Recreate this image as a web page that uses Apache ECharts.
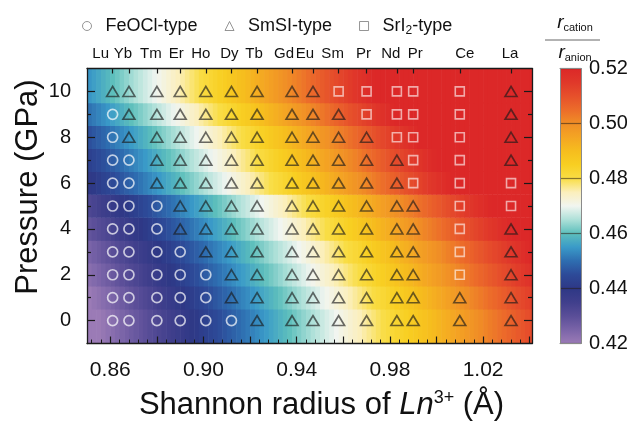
<!DOCTYPE html>
<html><head><meta charset="utf-8">
<script src="https://cdn.jsdelivr.net/npm/echarts@6/dist/echarts.min.js"></script>
<style>html,body{margin:0;padding:0;background:#fff}#c{width:627px;height:421px}</style>
</head><body><div id="c"></div>
<script>
// ---------------- data ----------------
const elements = ['Lu','Yb','Tm','Er','Ho','Dy','Tb','Gd','Eu','Sm','Pr','Nd','Pr','Ce','La'];
const radii = [0.861,0.868,0.880,0.890,0.901,0.912,0.923,0.938,0.947,0.958,0.970,0.983,0.990,1.010,1.032];
const pressures = [0,1,2,3,4,5,6,7,8,9,10];
// phase code per element for each pressure: F = FeOCl-type, S = SmSI-type, I = SrI2-type
const phaseRows = [
  'FFFFFFSSSSSSSSS', // 0 GPa
  'FFFFFSSSSSSSSSS', // 1
  'FFFFFSSSSSSSSIS', // 2
  'FFFFSSSSSSSSSIS', // 3
  'FFFSSSSSSSSSSIS', // 4
  'FFFSSSSSSSSSSII', // 5
  'FFSSSSSSSSSSIII', // 6
  'FFSSSSSSSSSSIIS', // 7
  'FSSSSSSSSSSIIIS', // 8
  'FSSSSSSSSSIIIIS', // 9
  'SSSSSSSSSIIIIIS'  // 10
];
// effective anion radius (Å) per pressure row, read from the colour field
const anionRadius = [2.036,2.026,2.013,2.002,1.985,1.968,1.936,1.923,1.909,1.889,1.872];
const phaseNames = ['FeOCl-type','SmSI-type','SrI2-type'];
const phaseCodes = ['F','S','I'];
const xTickLabels = [0.86,0.90,0.94,0.98,1.02];
const yTickLabels = [0,2,4,6,8,10];
const colorbarTicks = [0.42,0.44,0.46,0.48,0.50,0.52];

// ---------------- layout / style ----------------
const FONT = "'Liberation Sans', Arial, Helvetica, sans-serif";
const X_MIN = 0.85, X_MAX = 1.041, Y_MIN = -1, Y_MAX = 11, CELL = 0.002;
const R_MIN = 0.42, R_MAX = 0.52;
const cmap = ['#9b7bb6','#7a64a8','#5a4e98','#403f8c','#2e3886','#2d4a98','#2e6db0','#3a9ac8',
  '#5dbfbc','#ade0d8','#f1f5f0','#fbefbc','#f9dd45','#f8cf22','#f6bd1e','#f4a523','#f08e26',
  '#ec6c2a','#e6502b','#e0382a','#dc2828'];
const topShift = [12,6,6,4,5,2,3,8,8,6,3,6,-2,-5,1];

// heatmap cells
const cells = [];
pressures.forEach((p, r) => {
  const y0 = r === 0 ? Y_MIN : p - 0.5;
  const y1 = r === pressures.length - 1 ? Y_MAX : p + 0.5;
  const nCols = Math.ceil((X_MAX - X_MIN) / CELL);
  for (let k = 0; k < nCols; k++) {
    const x0 = X_MIN + k * CELL, x1 = x0 + CELL;
    const ratio = (x0 + CELL / 2) / anionRadius[r];
    cells.push([x0, x1, y0, y1, Math.min(R_MAX, Math.max(R_MIN, ratio))]);
  }
});
// phase points
const phaseData = phaseCodes.map(code => {
  const out = [];
  pressures.forEach((p, r) => {
    for (let i = 0; i < radii.length; i++) if (phaseRows[r][i] === code) out.push([radii[i], p]);
  });
  return out;
});

const majorX = [], minorX = [];
for (let n = 213; n <= 260; n++) { if (n % 5 === 0) majorX.push(+(n * 0.004).toFixed(3)); else minorX.push(+(n * 0.004).toFixed(3)); }
const evenY = [0,2,4,6,8,10], oddY = [1,3,5,7,9];

function renderCell(params, api) {
  const a = api.coord([api.value(0), api.value(3)]);
  const b = api.coord([api.value(1), api.value(2)]);
  return { type: 'rect', shape: { x: a[0], y: a[1] - 0.3, width: b[0] - a[0] + 0.6, height: b[1] - a[1] + 0.6 },
    style: { fill: api.visual('color') } };
}
function renderBar(params, api) {
  const a = api.coord([0, R_MAX]);
  const b = api.coord([1, R_MIN]);
  const stops = cmap.map((c, i) => ({ offset: 1 - i / (cmap.length - 1), color: c }));
  return { type: 'rect', shape: { x: a[0], y: a[1], width: b[0] - a[0], height: b[1] - a[1] },
    style: { fill: new echarts.graphic.LinearGradient(0, 0, 0, 1, stops.reverse()) } };
}
function nameOf(v) {
  let best = 0;
  radii.forEach((r, i) => { if (Math.abs(r - v) < Math.abs(radii[best] - v)) best = i; });
  return '{s' + best + '|' + elements[best] + '}';
}

const AX = '#1a1a1a';
const topRich = {};
topShift.forEach((s, i) => { topRich['s' + i] = { padding: s >= 0 ? [0, 2 * s, 0, 0] : [0, 0, 0, -2 * s], fontSize: 15, color: '#111', fontFamily: FONT }; });

const option = {
  backgroundColor: '#fff',
  animation: false,
  textStyle: { fontFamily: FONT },
  grid: [
    { left: 87, top: 68.5, width: 445, height: 275, outerBoundsMode: 'none', containLabel: false },
    { left: 560, top: 68.5, width: 21, height: 275, outerBoundsMode: 'none', containLabel: false }
  ],
  legend: {
    left: 77, top: 12, itemWidth: 9, itemHeight: 9, itemGap: 27,
    textStyle: { fontSize: 18, color: '#111', fontFamily: FONT, padding: [0, 0, 0, 9],
      rich: { sub: { fontSize: 12, padding: [10, 0, 0, 0], color: '#111' } } },
    formatter: n => n === 'SrI2-type' ? 'SrI{sub|2}-type' : n,
    data: [
      { name: phaseNames[0], icon: 'circle', itemStyle: { color: 'rgba(0,0,0,0)', borderColor: '#7a7a7a', borderWidth: 1 } },
      { name: phaseNames[1], icon: 'triangle', itemStyle: { color: 'rgba(0,0,0,0)', borderColor: '#7a7a7a', borderWidth: 1 } },
      { name: phaseNames[2], icon: 'rect', itemStyle: { color: 'rgba(0,0,0,0)', borderColor: '#7a7a7a', borderWidth: 1 } }
    ]
  },
  visualMap: {
    type: 'continuous', show: false, min: R_MIN, max: R_MAX, dimension: 4, seriesIndex: [0],
    inRange: { color: cmap }
  },
  xAxis: [
    { gridIndex: 0, type: 'value', position: 'bottom', min: X_MIN, max: X_MAX, z: 10,
      axisLine: { show: true, onZero: false, lineStyle: { color: AX, width: 1.3 } },
      axisTick: { show: true, inside: true, length: 7, customValues: majorX, lineStyle: { color: AX, width: 1.2 } },
      axisLabel: { customValues: xTickLabels, formatter: v => v.toFixed(2), fontSize: 21, color: '#111', margin: 16 },
      splitLine: { show: false },
      name: 'Shannon radius of {i|Ln}{sup|3+} (Å)', nameLocation: 'middle', nameGap: 46,
      nameTextStyle: { fontSize: 31, color: '#111', padding: [0, 0, 0, 24],
        rich: { i: { fontSize: 31, fontStyle: 'italic', color: '#111' }, sup: { fontSize: 18, padding: [0, 0, 13, 0], color: '#111' } } } },
    { gridIndex: 0, type: 'value', position: 'bottom', min: X_MIN, max: X_MAX, z: 10,
      axisLine: { show: false, onZero: false },
      axisTick: { show: true, inside: true, length: 4, customValues: minorX, lineStyle: { color: AX, width: 1 } },
      axisLabel: { show: false }, splitLine: { show: false } },
    { gridIndex: 0, type: 'value', position: 'top', min: X_MIN, max: X_MAX, z: 10,
      axisLine: { show: true, onZero: false, lineStyle: { color: AX, width: 1.3 } },
      axisTick: { show: true, inside: true, length: 5, customValues: radii, lineStyle: { color: AX, width: 1.2 } },
      axisLabel: { customValues: radii, margin: 7, formatter: v => nameOf(v), rich: topRich },
      splitLine: { show: false } },
    { gridIndex: 1, type: 'value', position: 'bottom', min: 0, max: 1, z: 10,
      axisLine: { show: true, onZero: false, lineStyle: { color: '#8a8a8a', width: 1 } },
      axisTick: { show: false }, axisLabel: { show: false }, splitLine: { show: false } },
    { gridIndex: 1, type: 'value', position: 'top', min: 0, max: 1, z: 10,
      axisLine: { show: true, onZero: false, lineStyle: { color: '#8a8a8a', width: 1 } },
      axisTick: { show: false }, axisLabel: { show: false }, splitLine: { show: false } }
  ],
  yAxis: [
    { gridIndex: 0, type: 'value', position: 'left', min: Y_MIN, max: Y_MAX, z: 10,
      axisLine: { show: true, onZero: false, lineStyle: { color: AX, width: 1.3 } },
      axisTick: { show: true, inside: true, length: 8, customValues: evenY, lineStyle: { color: AX, width: 1.2 } },
      axisLabel: { customValues: yTickLabels, fontSize: 20, color: '#111', margin: 16 },
      splitLine: { show: false },
      name: 'Pressure (GPa)', nameLocation: 'middle', nameGap: 43, nameMoveOverlap: false,
      nameTextStyle: { fontSize: 31, color: '#111', padding: [0, 0, 0, 38] } },
    { gridIndex: 0, type: 'value', position: 'left', min: Y_MIN, max: Y_MAX, z: 10,
      axisLine: { show: false, onZero: false },
      axisTick: { show: true, inside: true, length: 4, customValues: oddY, lineStyle: { color: AX, width: 1.2 } },
      axisLabel: { show: false }, splitLine: { show: false } },
    { gridIndex: 0, type: 'value', position: 'right', min: Y_MIN, max: Y_MAX, z: 10,
      axisLine: { show: true, onZero: false, lineStyle: { color: AX, width: 1.3 } },
      axisTick: { show: true, inside: true, length: 8, customValues: evenY, lineStyle: { color: AX, width: 1.2 } },
      axisLabel: { show: false }, splitLine: { show: false } },
    { gridIndex: 0, type: 'value', position: 'right', min: Y_MIN, max: Y_MAX, z: 10,
      axisLine: { show: false, onZero: false },
      axisTick: { show: true, inside: true, length: 4, customValues: oddY, lineStyle: { color: AX, width: 1.2 } },
      axisLabel: { show: false }, splitLine: { show: false } },
    { gridIndex: 1, type: 'value', position: 'right', min: R_MIN, max: R_MAX, interval: 0.02, z: 10,
      axisLine: { show: true, onZero: false, lineStyle: { color: '#8a8a8a', width: 1 } },
      axisTick: { show: false },
      axisLabel: { customValues: colorbarTicks, formatter: v => v.toFixed(2), fontSize: 20, color: '#111', margin: 8 },
      splitLine: { show: true, lineStyle: { color: 'rgba(40,30,20,0.55)', width: 1.2 } } },
    { gridIndex: 1, type: 'value', position: 'left', min: R_MIN, max: R_MAX, z: 10,
      axisLine: { show: true, onZero: false, lineStyle: { color: '#8a8a8a', width: 1 } },
      axisTick: { show: false }, axisLabel: { show: false }, splitLine: { show: false } }
  ],
  graphic: [
    { type: 'text', x: 575, y: 33, style: { text: '{r|r}{s|cation}', align: 'center', verticalAlign: 'bottom',
      rich: { r: { fontSize: 19, fontStyle: 'italic', fontFamily: FONT, fill: '#111' }, s: { fontSize: 11, fontFamily: FONT, fill: '#111', padding: [9, 0, 0, 0] } } } },
    { type: 'line', shape: { x1: 545, y1: 40, x2: 600, y2: 40 }, style: { stroke: '#666', lineWidth: 1 } },
    { type: 'text', x: 575, y: 63, style: { text: '{r|r}{s|anion}', align: 'center', verticalAlign: 'bottom',
      rich: { r: { fontSize: 19, fontStyle: 'italic', fontFamily: FONT, fill: '#111' }, s: { fontSize: 11, fontFamily: FONT, fill: '#111', padding: [9, 0, 0, 0] } } } }
  ],
  series: [
    { type: 'custom', name: 'ratio', xAxisIndex: 0, yAxisIndex: 0, data: cells, renderItem: renderCell, clip: true,
      encode: { x: [0, 1], y: [2, 3] }, silent: true, z: 1 },
    { type: 'custom', name: 'bar', xAxisIndex: 3, yAxisIndex: 4, data: [[0, 1, R_MIN, R_MAX]], renderItem: renderBar, clip: true,
      encode: { x: [0, 1], y: [2, 3] }, silent: true, z: 1 },
    { type: 'scatter', name: phaseNames[0], xAxisIndex: 0, yAxisIndex: 0, data: phaseData[0], symbol: 'circle', symbolSize: 10, z: 5,
      itemStyle: { color: 'rgba(0,0,0,0)', borderColor: 'rgba(255,255,255,0.88)', borderWidth: 1.7 } },
    { type: 'scatter', name: phaseNames[1], xAxisIndex: 0, yAxisIndex: 0, data: phaseData[1], symbol: 'triangle', symbolSize: [12, 10], z: 5,
      itemStyle: { color: 'rgba(0,0,0,0)', borderColor: 'rgba(25,25,25,0.8)', borderWidth: 1.6 } },
    { type: 'scatter', name: phaseNames[2], xAxisIndex: 0, yAxisIndex: 0, data: phaseData[2], symbol: 'rect', symbolSize: 9, z: 5,
      itemStyle: { color: 'rgba(0,0,0,0)', borderColor: 'rgba(255,255,255,0.75)', borderWidth: 1.6 } }
  ]
};
echarts.init(document.getElementById('c'), null, { renderer: 'canvas' }).setOption(option);
</script></body></html>
